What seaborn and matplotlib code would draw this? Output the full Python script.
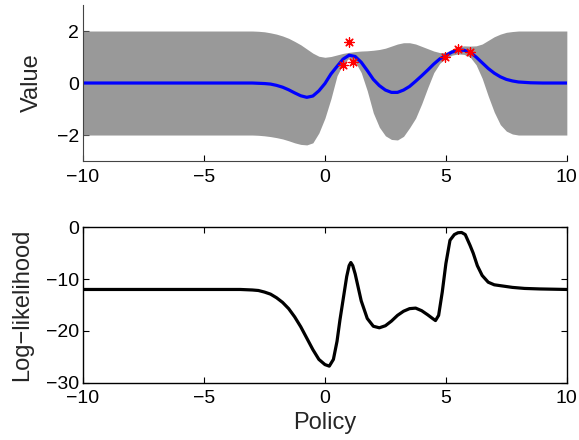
import numpy as np
import pandas as pd
import seaborn as sns
import matplotlib
matplotlib.use("Agg")
import matplotlib.pyplot as plt

# policy grid
policy = [-10, -3.5, -3.0, -2.75, -2.5, -2.25, -2.0, -1.75, -1.5, -1.25,
          -1.0, -0.75, -0.5, -0.25, 0.0, 0.25, 0.5, 0.75, 1.0, 1.25,
          1.5, 1.75, 2.0, 2.25, 2.5, 2.75, 3.0, 3.25, 3.5, 3.75,
          4.0, 4.25, 4.5, 4.75, 5.0, 5.25, 5.5, 5.75, 6.0, 6.25,
          6.5, 6.75, 7.0, 7.25, 7.5, 7.75, 8.0, 8.5, 9.0, 10]

gp_mean = [0, 0, 0, -0.01, -0.02, -0.04, -0.09, -0.16, -0.26, -0.38,
           -0.49, -0.55, -0.50, -0.30, -0.02, 0.35, 0.64, 0.92, 1.07, 1.02,
           0.80, 0.48, 0.14, -0.10, -0.27, -0.36, -0.36, -0.27, -0.13, 0.07,
           0.28, 0.50, 0.73, 0.93, 1.06, 1.19, 1.26, 1.26, 1.18, 1.00,
           0.78, 0.56, 0.38, 0.24, 0.14, 0.08, 0.04, 0.01, 0, 0]

gp_upper = [2.0, 2.0, 2.0, 1.99, 1.97, 1.93, 1.88, 1.81, 1.72, 1.60,
            1.47, 1.31, 1.15, 1.03, 0.99, 1.02, 1.08, 1.14, 1.18, 1.21,
            1.23, 1.24, 1.26, 1.29, 1.34, 1.42, 1.50, 1.55, 1.55, 1.50,
            1.41, 1.32, 1.23, 1.17, 1.18, 1.30, 1.40, 1.43, 1.42, 1.43,
            1.50, 1.64, 1.78, 1.88, 1.95, 1.98, 2.0, 2.0, 2.0, 2.0]

gp_lower = [-2.0, -2.0, -2.0, -2.01, -2.03, -2.06, -2.10, -2.15, -2.22, -2.30,
            -2.36, -2.38, -2.30, -1.92, -1.35, -0.60, 0.28, 0.74, 0.96, 0.82,
            0.40, -0.30, -1.15, -1.70, -2.03, -2.17, -2.19, -2.05, -1.72, -1.35,
            -0.80, -0.18, 0.40, 0.76, 0.95, 1.07, 1.12, 1.10, 1.00, 0.70,
            0.18, -0.50, -1.12, -1.60, -1.85, -1.96, -2.0, -2.0, -2.0, -2.0]

obs_x = [0.76, 0.99, 1.17, 4.96, 5.51, 5.99]
obs_y = [0.69, 1.59, 0.80, 0.99, 1.31, 1.21]

ll_x = [-10, -3.5, -3.0, -2.75, -2.5, -2.25, -2.0, -1.75, -1.5, -1.25,
        -1.0, -0.75, -0.5, -0.25, 0.0, 0.18, 0.35, 0.5, 0.62, 0.75,
        0.9, 1.0, 1.07, 1.15, 1.25, 1.5, 1.75, 2.0, 2.25, 2.5,
        2.75, 3.0, 3.25, 3.5, 3.75, 4.0, 4.25, 4.45, 4.57, 4.7,
        4.85, 5.0, 5.17, 5.35, 5.5, 5.65, 5.8, 6.0, 6.13, 6.3,
        6.5, 6.75, 7.0, 7.3, 7.75, 8.25, 8.88, 10]
loglik = [-12, -12, -12.1, -12.2, -12.5, -12.9, -13.6, -14.5, -15.7, -17.3,
          -19.2, -21.4, -23.6, -25.5, -26.5, -26.8, -25.5, -22.0, -17.9, -14.0,
          -9.5, -7.4, -6.8, -7.4, -9.0, -14.2, -17.6, -19.1, -19.4, -19.0,
          -18.1, -17.0, -16.2, -15.7, -15.6, -16.1, -16.9, -17.6, -18.0, -17.0,
          -12.5, -7.0, -2.5, -1.4, -1.05, -1.0, -1.4, -3.5, -5.0, -7.4,
          -9.3, -10.6, -11.1, -11.3, -11.6, -11.8, -11.9, -12]

gp = pd.DataFrame({"policy": policy, "mean": gp_mean,
                   "upper": gp_upper, "lower": gp_lower})
obs = pd.DataFrame({"policy": obs_x, "value": obs_y})
ll = pd.DataFrame({"policy": ll_x, "loglik": loglik})

sns.set_style("ticks")
plt.rcParams["font.family"] = ["Liberation Sans", "DejaVu Sans"]
plt.rcParams["xtick.direction"] = "in"
plt.rcParams["ytick.direction"] = "in"

fig = plt.figure(figsize=(5.79, 4.40), dpi=100)
ax1 = fig.add_axes([0.1434, 0.634, 0.8356, 0.3546])
ax2 = fig.add_axes([0.1434, 0.1302, 0.8356, 0.3532])

# top: GP posterior
ax1.fill_between(gp["policy"], gp["lower"], gp["upper"],
                 color="#999999", linewidth=0, zorder=1)
sns.lineplot(data=gp, x="policy", y="mean", ax=ax1, color="#0000ff",
             linewidth=2.3, zorder=2)
sns.scatterplot(data=obs, x="policy", y="value", ax=ax1, color="red",
                marker=(8, 2, 0), s=45, linewidth=0.9, zorder=3)
ax1.set_xlim(-10, 10)
ax1.set_ylim(-3, 3)
ax1.set_xticks([-10, -5, 0, 5, 10])
ax1.set_yticks([-2, 0, 2])
ax1.set_xlabel("")
ax1.set_ylabel("Value", fontsize=17)
ax1.yaxis.set_label_coords(-0.083, 0.5)
sns.despine(ax=ax1)

# bottom: log-likelihood
sns.lineplot(data=ll, x="policy", y="loglik", ax=ax2, color="black",
             linewidth=2.3)
ax2.set_xlim(-10, 10)
ax2.set_ylim(-30, 0)
ax2.set_xticks([-10, -5, 0, 5, 10])
ax2.set_yticks([-30, -20, -10, 0])
ax2.set_xlabel("Policy", fontsize=17, labelpad=3)
ax2.set_ylabel("Log\u2212likelihood", fontsize=17)
ax2.yaxis.set_label_coords(-0.103, 0.5)
ax2.tick_params(top=True, right=True)

for ax in (ax1, ax2):
    ax.tick_params(labelsize=14, length=4, width=0.8, colors="black")
    ax.tick_params(axis="x", pad=5.5)
    ax.tick_params(axis="y", pad=3)
    ax.set_facecolor("white")
for sp in ax1.spines.values():
    sp.set_linewidth(0.8)
    sp.set_color("#444444")
for sp in ax2.spines.values():
    sp.set_linewidth(1.0)
    sp.set_color("black")

fig.savefig("out.png", dpi=100)
